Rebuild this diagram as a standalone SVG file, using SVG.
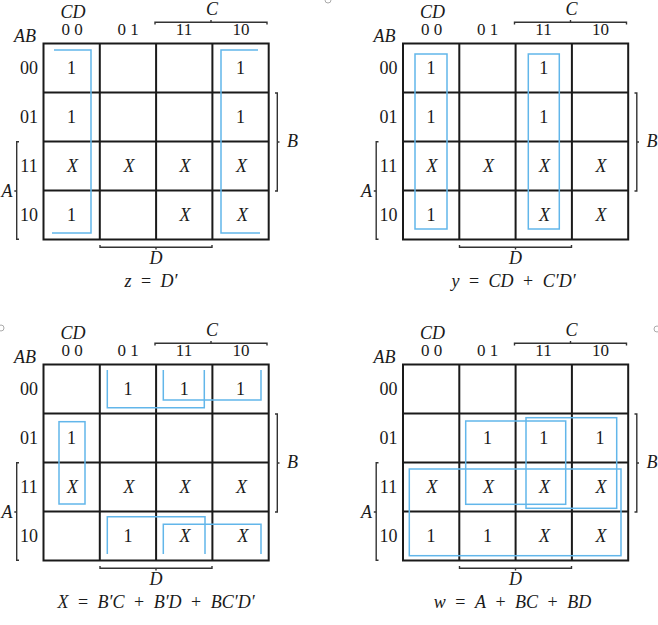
<svg xmlns="http://www.w3.org/2000/svg" width="658" height="625" viewBox="0 0 658 625">
<style>
text{font-family:"Liberation Serif","Times New Roman",serif;font-size:18px;fill:#1a1a1a;text-anchor:middle}
.i{font-style:italic}
.hd{font-size:17px}
.grid{fill:none;stroke:#1a1a1a;stroke-width:2}
.br{fill:none;stroke:#333;stroke-width:1.4}
.loop{fill:none;stroke:#62b6ea;stroke-width:1.5}
.dot{fill:none;stroke:#aaa;stroke-width:1}
.eq{word-spacing:5px}
</style>
<g id="marks">
<circle class="dot" cx="328" cy="0" r="3"/>
<circle class="dot" cx="1" cy="328" r="3"/>
<circle class="dot" cx="657" cy="329" r="3"/>
</g>

<!-- Map 1 -->
<g id="map-z">
<path class="grid" d="M43.5,43.5H268.7V239.5H43.5Z M99.8,43.5V239.5 M156.1,43.5V239.5 M212.4,43.5V239.5 M43.5,92.5H268.7 M43.5,141.5H268.7 M43.5,190.5H268.7"/>
<text class="i" x="73" y="17.5">CD</text>
<text class="i" x="25" y="42">AB</text>
<text class="hd" x="72" y="35">0 0</text><text class="hd" x="128" y="35">0 1</text><text class="hd" x="184" y="35">11</text><text class="hd" x="241" y="35">10</text>
<text x="29" y="73.5">00</text><text x="29" y="122.5">01</text><text x="29" y="171.5">11</text><text x="29" y="220.5">10</text>
<path class="br" d="M155,24.5V22.3H267V24.5 M211,22.3V20"/>
<text class="i" x="212" y="14.5">C</text>
<path class="br" d="M275,93H277.3V191H275 M277.3,142H279.5"/>
<text class="i" x="292.5" y="146.5">B</text>
<path class="br" d="M19,141.7H16.7V239.3H19 M16.7,191H14.3"/>
<text class="i" x="7" y="196.5">A</text>
<path class="br" d="M100,245V247.3H212V245 M156,247.3V249.6"/>
<text class="i" x="156" y="263.5">D</text>
<text class="eq" x="151" y="287"><tspan class="i">z</tspan> = <tspan class="i">D′</tspan></text>
<text x="71.6" y="73.5">1</text><text x="240.5" y="73.5">1</text>
<text x="71.6" y="122.5">1</text><text x="240.5" y="122.5">1</text>
<text class="i" x="72.5" y="171.5">X</text><text class="i" x="129" y="171.5">X</text><text class="i" x="185" y="171.5">X</text><text class="i" x="241.5" y="171.5">X</text>
<text x="71.6" y="220.5">1</text><text class="i" x="185" y="220.5">X</text><text class="i" x="242.5" y="220.5">X</text>
<path class="loop" d="M54,50H91V233H52"/>
<path class="loop" d="M258,50H221V233H260"/>
</g>

<!-- Map 2 -->
<g id="map-y" transform="translate(359.5,0)">
<path class="grid" d="M43.5,43.5H268.7V239.5H43.5Z M99.8,43.5V239.5 M156.1,43.5V239.5 M212.4,43.5V239.5 M43.5,92.5H268.7 M43.5,141.5H268.7 M43.5,190.5H268.7"/>
<text class="i" x="73" y="17.5">CD</text>
<text class="i" x="25" y="42">AB</text>
<text class="hd" x="72" y="35">0 0</text><text class="hd" x="128" y="35">0 1</text><text class="hd" x="184" y="35">11</text><text class="hd" x="241" y="35">10</text>
<text x="29" y="73.5">00</text><text x="29" y="122.5">01</text><text x="29" y="171.5">11</text><text x="29" y="220.5">10</text>
<path class="br" d="M155,24.5V22.3H267V24.5 M211,22.3V20"/>
<text class="i" x="212" y="14.5">C</text>
<path class="br" d="M275,93H277.3V191H275 M277.3,142H279.5"/>
<text class="i" x="292.5" y="146.5">B</text>
<path class="br" d="M19,141.7H16.7V239.3H19 M16.7,191H14.3"/>
<text class="i" x="7" y="196.5">A</text>
<path class="br" d="M100,245V247.3H212V245 M156,247.3V249.6"/>
<text class="i" x="156" y="263.5">D</text>
<text class="eq" x="154" y="287"><tspan class="i">y</tspan> = <tspan class="i">CD</tspan> + <tspan class="i">C′D′</tspan></text>
<text x="71.6" y="73.5">1</text><text x="184.2" y="73.5">1</text>
<text x="71.6" y="122.5">1</text><text x="184.2" y="122.5">1</text>
<text class="i" x="72.5" y="171.5">X</text><text class="i" x="129" y="171.5">X</text><text class="i" x="185" y="171.5">X</text><text class="i" x="241.5" y="171.5">X</text>
<text x="71.6" y="220.5">1</text><text class="i" x="185" y="220.5">X</text><text class="i" x="241.5" y="220.5">X</text>
<rect class="loop" x="55.5" y="54" width="32" height="175"/>
<rect class="loop" x="168.8" y="54" width="31" height="175"/>
</g>

<!-- Map 3 -->
<g id="map-x" transform="translate(0,321)">
<path class="grid" d="M43.5,43.5H268.7V239.5H43.5Z M99.8,43.5V239.5 M156.1,43.5V239.5 M212.4,43.5V239.5 M43.5,92.5H268.7 M43.5,141.5H268.7 M43.5,190.5H268.7"/>
<text class="i" x="73" y="17.5">CD</text>
<text class="i" x="25" y="42">AB</text>
<text class="hd" x="72" y="35">0 0</text><text class="hd" x="128" y="35">0 1</text><text class="hd" x="184" y="35">11</text><text class="hd" x="241" y="35">10</text>
<text x="29" y="73.5">00</text><text x="29" y="122.5">01</text><text x="29" y="171.5">11</text><text x="29" y="220.5">10</text>
<path class="br" d="M155,24.5V22.3H267V24.5 M211,22.3V20"/>
<text class="i" x="212" y="14.5">C</text>
<path class="br" d="M275,93H277.3V191H275 M277.3,142H279.5"/>
<text class="i" x="292.5" y="146.5">B</text>
<path class="br" d="M19,141.7H16.7V239.3H19 M16.7,191H14.3"/>
<text class="i" x="7" y="196.5">A</text>
<path class="br" d="M100,245V247.3H212V245 M156,247.3V249.6"/>
<text class="i" x="156" y="263.5">D</text>
<text class="eq" x="156" y="286.5"><tspan class="i">X</tspan> = <tspan class="i">B′C</tspan> + <tspan class="i">B′D</tspan> + <tspan class="i">BC′D′</tspan></text>
<text x="128" y="73.5">1</text><text x="184.2" y="73.5">1</text><text x="240.5" y="73.5">1</text>
<text x="71.6" y="122.5">1</text>
<text class="i" x="72.5" y="171.5">X</text><text class="i" x="129" y="171.5">X</text><text class="i" x="185" y="171.5">X</text><text class="i" x="241.5" y="171.5">X</text>
<text x="128" y="220.5">1</text><text class="i" x="185" y="220.5">X</text><text class="i" x="243" y="220.5">X</text>
<path class="loop" d="M107.3,49V86.7H204.3V49"/>
<path class="loop" d="M163.3,49V79H261V49"/>
<rect class="loop" x="59" y="100.7" width="26" height="82.3"/>
<path class="loop" d="M107.3,233V195.7H205V233"/>
<path class="loop" d="M163.3,233V203.3H261V233"/>
</g>

<!-- Map 4 -->
<g id="map-w" transform="translate(359.5,321)">
<path class="grid" d="M43.5,43.5H268.7V239.5H43.5Z M99.8,43.5V239.5 M156.1,43.5V239.5 M212.4,43.5V239.5 M43.5,92.5H268.7 M43.5,141.5H268.7 M43.5,190.5H268.7"/>
<text class="i" x="73" y="17.5">CD</text>
<text class="i" x="25" y="42">AB</text>
<text class="hd" x="72" y="35">0 0</text><text class="hd" x="128" y="35">0 1</text><text class="hd" x="184" y="35">11</text><text class="hd" x="241" y="35">10</text>
<text x="29" y="73.5">00</text><text x="29" y="122.5">01</text><text x="29" y="171.5">11</text><text x="29" y="220.5">10</text>
<path class="br" d="M155,24.5V22.3H267V24.5 M211,22.3V20"/>
<text class="i" x="212" y="14.5">C</text>
<path class="br" d="M275,93H277.3V191H275 M277.3,142H279.5"/>
<text class="i" x="292.5" y="146.5">B</text>
<path class="br" d="M19,141.7H16.7V239.3H19 M16.7,191H14.3"/>
<text class="i" x="7" y="196.5">A</text>
<path class="br" d="M100,245V247.3H212V245 M156,247.3V249.6"/>
<text class="i" x="156" y="263.5">D</text>
<text class="eq" x="153" y="286.5"><tspan class="i">w</tspan> = <tspan class="i">A</tspan> + <tspan class="i">BC</tspan> + <tspan class="i">BD</tspan></text>
<text x="128" y="122.5">1</text><text x="184.2" y="122.5">1</text><text x="240.5" y="122.5">1</text>
<text class="i" x="72.5" y="171.5">X</text><text class="i" x="129" y="171.5">X</text><text class="i" x="185" y="171.5">X</text><text class="i" x="241.5" y="171.5">X</text>
<text x="71.6" y="220.5">1</text><text x="128" y="220.5">1</text><text class="i" x="185" y="220.5">X</text><text class="i" x="241.5" y="220.5">X</text>
<rect class="loop" x="106.2" y="100" width="100" height="83.3"/>
<rect class="loop" x="166.5" y="96.7" width="90.7" height="90.6"/>
<rect class="loop" x="49.8" y="148" width="211.7" height="86.7"/>
</g>
</svg>
